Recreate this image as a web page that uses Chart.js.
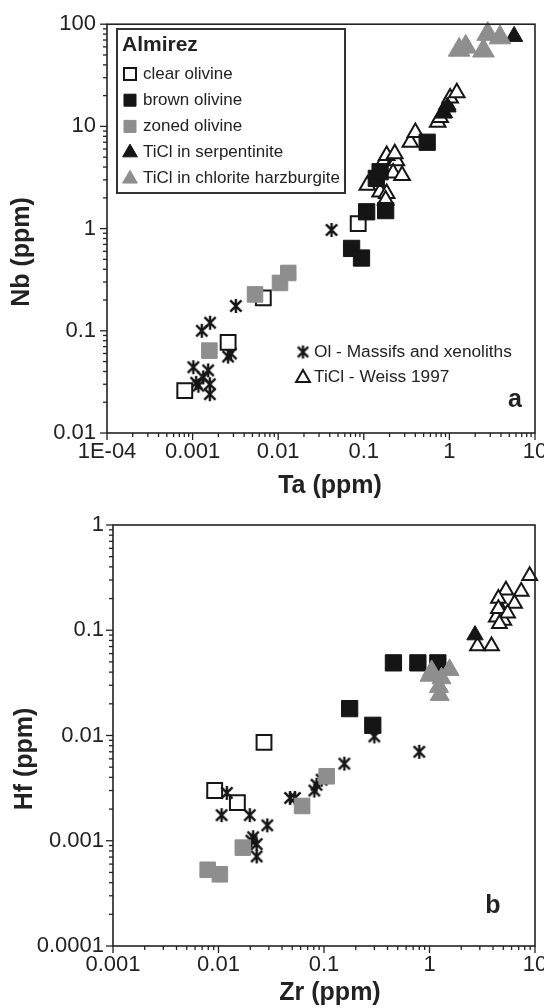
<!DOCTYPE html>
<html>
<head>
<meta charset="utf-8">
<script src="https://cdn.jsdelivr.net/npm/chart.js@4.4.1/dist/chart.umd.min.js"></script>
<style>
  html, body { margin: 0; padding: 0; background: #fff; overflow: hidden; }
  #boxA { position: absolute; left: 0; top: 0; width: 544px; height: 500px; overflow: hidden; }
  #boxB { position: absolute; left: 0; top: 500px; width: 544px; height: 508px; overflow: hidden; }
</style>
</head>
<body>
<div id="boxA"><canvas id="chartA" width="560" height="500"></canvas></div>
<div id="boxB"><canvas id="chartB" width="560" height="508"></canvas></div>
<script>
// ---- panel a : Ta vs Nb (ppm) ----
var clearTa  = [0.00081, 0.0026, 0.0067, 0.086]
var clearNb  = [0.026, 0.077, 0.21, 1.12]
var brownTa  = [0.072, 0.094, 0.108, 0.18, 0.14, 0.155, 0.55]
var brownNb  = [0.64, 0.515, 1.46, 1.5, 3.1, 3.6, 7.0]
var zonedTa  = [0.00157, 0.00536, 0.0105, 0.0131]
var zonedNb  = [0.064, 0.227, 0.294, 0.368]
var serpTa   = [0.85, 0.95, 5.7]
var serpNb   = [13.5, 15.5, 76]
var chlTa    = [1.3, 1.55, 2.5, 2.8, 3.9]
var chlNb    = [56, 60, 55, 80, 74]
var massifTa = [0.00102, 0.00117, 0.0011, 0.00128, 0.00133, 0.00152, 0.0016, 0.00159, 0.00159, 0.0026, 0.0028, 0.0032, 0.042]
var massifNb = [0.044, 0.029, 0.031, 0.1, 0.035, 0.041, 0.12, 0.03, 0.024, 0.056, 0.06, 0.175, 0.97]
var weissTa  = [0.11, 0.155, 0.185, 0.18, 0.17, 0.2, 0.24, 0.22, 0.28, 0.185, 0.23, 0.35, 0.4, 0.73, 0.78, 0.86, 0.94, 1.02, 1.22]
var weissNb  = [2.66, 2.28, 2.2, 1.9, 4.5, 3.8, 4.6, 3.5, 3.3, 5.2, 5.4, 7.0, 8.7, 11, 12.2, 13.7, 16.4, 19, 21.4]

// ---- panel b : Zr vs Hf (ppm) ----
var clearZr  = [0.0092, 0.0151, 0.027]
var clearHf  = [0.003, 0.0023, 0.0086]
var brownZr  = [0.175, 0.29, 0.455, 0.776, 1.2]
var brownHf  = [0.018, 0.0125, 0.049, 0.049, 0.049]
var zonedZr  = [0.0079, 0.0103, 0.017, 0.062, 0.106]
var zonedHf  = [0.00053, 0.00048, 0.00086, 0.00214, 0.0041]
var serpZr   = [2.7]
var serpHf   = [0.09]
var chlZr    = [1.0, 1.05, 1.23, 1.25, 1.55, 1.3]
var chlHf    = [0.037, 0.041, 0.029, 0.0243, 0.042, 0.035]
var massifZr = [0.012, 0.0107, 0.0198, 0.029, 0.0213, 0.023, 0.023, 0.0205, 0.0477, 0.053, 0.081, 0.085, 0.095, 0.156, 0.3, 0.8]
var massifHf = [0.00285, 0.00175, 0.00175, 0.0014, 0.00108, 0.00093, 0.00071, 0.001, 0.00255, 0.00255, 0.003, 0.0034, 0.0038, 0.0054, 0.0098, 0.007]
var weissZr  = [8.9, 7.4, 5.3, 4.5, 6.4, 4.9, 4.3, 5.06, 4.5, 5.5, 2.85, 3.87, 4.6]
var weissHf  = [0.33, 0.233, 0.24, 0.2, 0.18, 0.149, 0.133, 0.124, 0.16, 0.145, 0.071, 0.071, 0.115]

// ---- axes ----
var decadesTa = [0.0001, 0.001, 0.01, 0.1, 1, 10]
var labelsTa  = ['1E-04', '0.001', '0.01', '0.1', '1', '10']
var decadesNb = [0.01, 0.1, 1, 10, 100]
var labelsNb  = ['0.01', '0.1', '1', '10', '100']
var decadesZr = [0.001, 0.01, 0.1, 1, 10]
var labelsZr  = ['0.001', '0.01', '0.1', '1', '10']
var decadesHf = [0.0001, 0.001, 0.01, 0.1, 1]
var labelsHf  = ['0.0001', '0.001', '0.01', '0.1', '1']

var legendTitle  = 'Almirez'
var legendLabels = ['clear olivine', 'brown olivine', 'zoned olivine', 'TiCl in serpentinite', 'TiCl in chlorite harzburgite']
var refLabels    = ['Ol - Massifs and xenoliths', 'TiCl - Weiss 1997']

const FONT = "'Liberation Sans', Arial, sans-serif"
const BLACK = '#151515'
const GREY = '#8e8e8e'

// six armed asterisk like the original symbol
function asterisk(size, lw) {
    const c = document.createElement('canvas')
    c.width = size; c.height = size
    const g = c.getContext('2d')
    g.strokeStyle = BLACK
    g.lineWidth = lw
    const h = size / 2, r = size / 2 - 1, d = r * 0.8
    g.beginPath()
    g.moveTo(h, h - r); g.lineTo(h, h + r)
    g.moveTo(h - d, h - d); g.lineTo(h + d, h + d)
    g.moveTo(h + d, h - d); g.lineTo(h - d, h + d)
    g.stroke()
    return c
}
const star = asterisk(16, 2.4)
const starSmall = asterisk(15, 2.4)

const styles = {
    clear:  { pointStyle: 'rect', fill: '#fff', stroke: BLACK, bw: 2 },
    brown:  { pointStyle: 'rect', fill: BLACK, stroke: BLACK, bw: 1 },
    zoned:  { pointStyle: 'rect', fill: GREY, stroke: GREY, bw: 1 },
    serp:   { pointStyle: 'triangle', fill: BLACK, stroke: BLACK, bw: 1 },
    chl:    { pointStyle: 'triangle', fill: GREY, stroke: GREY, bw: 1 },
    massif: { pointStyle: star, fill: BLACK, stroke: BLACK, bw: 0 },
    weiss:  { pointStyle: 'triangle', fill: '#fff', stroke: BLACK, bw: 2 }
}

function pts(xs, ys) {
    return xs.map((x, i) => ({ x: x, y: ys[i] }))
}

function ds(key, xs, ys, radius, order) {
    const s = styles[key]
    return {
        data: pts(xs, ys),
        pointStyle: s.pointStyle,
        pointRadius: radius,
        pointBackgroundColor: s.fill,
        pointBorderColor: s.stroke,
        pointBorderWidth: s.bw,
        showLine: false,
        clip: false,
        order: order
    }
}

function logTicks(min, max) {
    const out = []
    const e0 = Math.round(Math.log10(min)), e1 = Math.round(Math.log10(max))
    for (let e = e0; e <= e1; e++) {
        for (let m = 1; m <= 9; m++) {
            const v = m * Math.pow(10, e)
            if (v > max * 1.0001) break
            out.push({ value: v, major: m === 1 })
        }
    }
    return out
}

function labeler(decades, labels) {
    return function (value) {
        const i = decades.findIndex(d => Math.abs(Math.log10(value) - Math.log10(d)) < 1e-6)
        return i >= 0 ? labels[i] : ''
    }
}

function markerAt(ctx, key, x, y, r) {
    const s = styles[key]
    ctx.save()
    ctx.fillStyle = s.fill
    ctx.strokeStyle = s.stroke
    ctx.lineWidth = s.bw
    let style = s.pointStyle
    if (key === 'massif') style = starSmall
    Chart.helpers.drawPoint(ctx, { pointStyle: style, radius: r, borderWidth: s.bw, rotation: 0 }, x, y)
    ctx.restore()
}

// frame, tick marks, titles, legends and panel letter
const overlay = {
    id: 'overlay',
    afterDraw(chart, args, o) {
        const ctx = chart.ctx
        const a = chart.chartArea
        ctx.save()
        ctx.strokeStyle = '#222'
        ctx.lineWidth = 1.6
        ctx.strokeRect(a.left, a.top, a.right - a.left, a.bottom - a.top)
        ctx.lineWidth = 1.3
        for (const id of ['x', 'y']) {
            const sc = chart.scales[id]
            sc.ticks.forEach(t => {
                const major = Math.abs(Math.log10(t.value) - Math.round(Math.log10(t.value))) < 1e-6
                const len = major ? 7 : 4
                const p = sc.getPixelForValue(t.value)
                ctx.beginPath()
                if (id === 'x') { ctx.moveTo(p, a.bottom); ctx.lineTo(p, a.bottom + len) }
                else { ctx.moveTo(a.left, p); ctx.lineTo(a.left - len, p) }
                ctx.stroke()
            })
        }

        ctx.fillStyle = '#222'
        ctx.font = 'bold 25px ' + FONT
        ctx.textAlign = 'center'
        ctx.textBaseline = 'middle'
        ctx.fillText(o.xTitle, o.xTitlePos[0], o.xTitlePos[1])
        ctx.save()
        ctx.translate(o.yTitlePos[0], o.yTitlePos[1])
        ctx.rotate(-Math.PI / 2)
        ctx.fillText(o.yTitle, 0, 0)
        ctx.restore()
        ctx.fillText(o.letter, o.letterPos[0], o.letterPos[1])

        if (o.legend) {
            ctx.strokeStyle = '#333'
            ctx.lineWidth = 2
            ctx.strokeRect(117, 29, 228, 164)
            ctx.textAlign = 'left'
            ctx.fillStyle = '#222'
            ctx.font = 'bold 21px ' + FONT
            ctx.fillText(legendTitle, 122, 45)
            ctx.font = '17px ' + FONT
            const keys = ['clear', 'brown', 'zoned', 'serp', 'chl']
            keys.forEach((k, i) => {
                const y = 74 + i * 26.2
                markerAt(ctx, k, 130, y, 8.5)
                ctx.fillStyle = '#222'
                ctx.fillText(legendLabels[i], 143, y)
            })
            ctx.font = '17.3px ' + FONT
            markerAt(ctx, 'massif', 303, 352, 7)
            markerAt(ctx, 'weiss', 303, 378, 8)
            ctx.fillStyle = '#222'
            ctx.fillText(refLabels[0], 314, 352)
            ctx.fillText(refLabels[1], 314, 377)
        }
        ctx.restore()
    }
}

function makeScale(min, max, decades, labels, axis, pad) {
    return {
        type: 'logarithmic',
        min: min,
        max: max,
        afterBuildTicks: s => { s.ticks = logTicks(min, max) },
        afterFit: s => {
            if (axis === 'x') { s.height = pad.h }
            else { s.width = pad.w }
        },
        grid: { display: false, drawTicks: false },
        border: { display: false },
        ticks: {
            autoSkip: false,
            maxRotation: 0,
            minRotation: 0,
            padding: pad.p,
            color: '#222',
            font: { family: FONT, size: 22 },
            callback: labeler(decades, labels)
        }
    }
}

function build(id, datasets, sx, sy, padding, overlayOpts) {
    return new Chart(document.getElementById(id), {
        type: 'scatter',
        data: { datasets: datasets },
        options: {
            responsive: false,
            animation: false,
            events: [],
            layout: { padding: padding },
            plugins: { legend: { display: false }, tooltip: { enabled: false }, overlay: overlayOpts },
            scales: { x: sx, y: sy }
        },
        plugins: [overlay]
    })
}

build('chartA', [
        ds('chl', chlTa, chlNb, 12.5, 1),
        ds('serp', serpTa, serpNb, 10, 2),
        ds('zoned', zonedTa, zonedNb, 11, 3),
        ds('brown', brownTa, brownNb, 11.5, 4),
        ds('clear', clearTa, clearNb, 10.5, 5),
        ds('massif', massifTa, massifNb, 8, 6),
        ds('weiss', weissTa, weissNb, 9, 7)
    ],
    makeScale(0.0001, 10, decadesTa, labelsTa, 'x', { h: 67, p: 6 }),
    makeScale(0.01, 100, decadesNb, labelsNb, 'y', { w: 107, p: 11 }),
    { top: 21, right: 25, left: 0, bottom: 0 },
    { xTitle: 'Ta (ppm)', xTitlePos: [330, 486], yTitle: 'Nb (ppm)', yTitlePos: [22, 252],
      letter: 'a', letterPos: [515, 400], legend: true }
)

build('chartB', [
        ds('chl', chlZr, chlHf, 11, 1),
        ds('serp', serpZr, serpHf, 9.5, 2),
        ds('brown', brownZr, brownHf, 11.5, 3),
        ds('zoned', zonedZr, zonedHf, 11, 4),
        ds('massif', massifZr, massifHf, 8, 5),
        ds('clear', clearZr, clearHf, 10.5, 6),
        ds('weiss', weissZr, weissHf, 8.5, 7)
    ],
    makeScale(0.001, 10, decadesZr, labelsZr, 'x', { h: 62, p: 6 }),
    makeScale(0.0001, 1, decadesHf, labelsHf, 'y', { w: 113, p: 9 }),
    { top: 25, right: 25, left: 0, bottom: 0 },
    { xTitle: 'Zr (ppm)', xTitlePos: [330, 493], yTitle: 'Hf (ppm)', yTitlePos: [25, 259],
      letter: 'b', letterPos: [493, 406], legend: false }
)
</script>
</body>
</html>
